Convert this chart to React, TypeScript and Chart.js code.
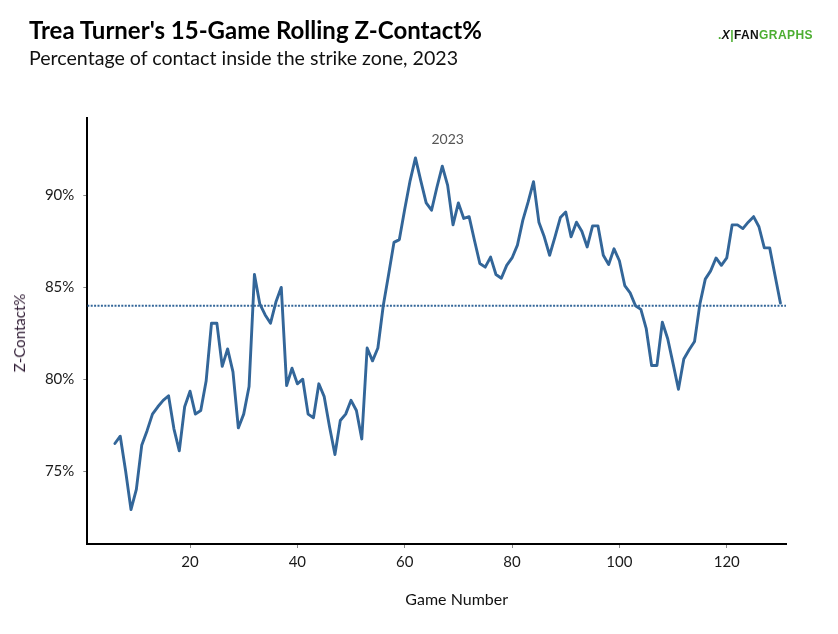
import React, { useEffect, useRef } from "react";
import { Chart, registerables } from "chart.js";

Chart.register(...registerables);

// Game numbers and 15-game rolling Z-Contact%
const games = [
  6, 7, 8, 9, 10, 11, 12, 13, 14, 15, 16, 17, 18, 19, 20, 21, 22, 23, 24, 25,
  26, 27, 28, 29, 30, 31, 32, 33, 34, 35, 36, 37, 38, 39, 40, 41, 42, 43, 44,
  45, 46, 47, 48, 49, 50, 51, 52, 53, 54, 55, 56, 57, 58, 59, 60, 61, 62, 63,
  64, 65, 66, 67, 68, 69, 70, 71, 72, 73, 74, 75, 76, 77, 78, 79, 80, 81, 82,
  83, 84, 85, 86, 87, 88, 89, 90, 91, 92, 93, 94, 95, 96, 97, 98, 99, 100,
  101, 102, 103, 104, 105, 106, 107, 108, 109, 110, 111, 112, 113, 114, 115,
  116, 117, 118, 119, 120, 121, 122, 123, 124, 125, 126, 127, 128, 129, 130,
];

const zContact = [
  76.5, 76.9, 75.0, 72.9, 74.0, 76.4, 77.2, 78.1, 78.5, 78.85, 79.1, 77.3,
  76.1, 78.5, 79.35, 78.1, 78.3, 79.9, 83.05, 83.05, 80.7, 81.65, 80.4, 77.35,
  78.1, 79.6, 85.7, 84.1, 83.5, 83.05, 84.2, 85.0, 79.65, 80.6, 79.75, 80.0,
  78.1, 77.9, 79.75, 79.05, 77.4, 75.9, 77.75, 78.1, 78.85, 78.3, 76.75, 81.7,
  81.0, 81.7, 84.0, 85.7, 87.45, 87.6, 89.25, 90.8, 92.05, 90.8, 89.6, 89.2,
  90.45, 91.6, 90.55, 88.4, 89.6, 88.75, 88.85, 87.55, 86.3, 86.1, 86.65, 85.7,
  85.5, 86.2, 86.6, 87.3, 88.65, 89.65, 90.75, 88.55, 87.75, 86.75, 87.75,
  88.8, 89.1, 87.75, 88.55, 88.05, 87.2, 88.35, 88.35, 86.75, 86.25, 87.1,
  86.45, 85.1, 84.7, 84.0, 83.8, 82.75, 80.75, 80.75, 83.1, 82.2, 80.85, 79.45,
  81.1, 81.6, 82.05, 84.1, 85.45, 85.9, 86.6, 86.2, 86.6, 88.4, 88.4, 88.2,
  88.55, 88.85, 88.3, 87.15, 87.15, 85.65, 84.15,
];

const seasonAverage = 84.0;
const avgLineGames = [0.86, 131.04];

const xTicks = [20, 40, 60, 80, 100, 120];
const yTicks = [75, 80, 85, 90];

const seasonLabel = "2023";
const seasonLabelGame = 68;
const seasonLabelValue = 93.06;

const LINE_COLOR = "#336699";
const FONT = "Lato, 'Noto Sans', sans-serif";

const seasonLabelPlugin = {
  id: "seasonLabel",
  afterDatasetsDraw(chart: Chart) {
    const { ctx, scales } = chart;
    const x = scales.x.getPixelForValue(seasonLabelGame);
    const y = scales.y.getPixelForValue(seasonLabelValue);
    ctx.save();
    ctx.font = `14px ${FONT}`;
    ctx.fillStyle = "#555555";
    ctx.textAlign = "center";
    ctx.textBaseline = "middle";
    ctx.fillText(seasonLabel, x, y);
    ctx.restore();
  },
};

const App: React.FC = () => {
  const chartRef = useRef<HTMLCanvasElement>(null);
  const chartInstance = useRef<Chart | null>(null);

  useEffect(() => {
    if (!chartRef.current) return;
    if (chartInstance.current) chartInstance.current.destroy();

    const ctx = chartRef.current.getContext("2d");
    if (!ctx) return;

    chartInstance.current = new Chart(ctx, {
      type: "line",
      data: {
        datasets: [
          {
            data: games.map((g, i) => ({ x: g, y: zContact[i] })),
            borderColor: LINE_COLOR,
            borderWidth: 2.9,
            borderJoinStyle: "round",
            borderCapStyle: "round",
            pointRadius: 0,
            tension: 0,
            fill: false,
          },
          {
            data: avgLineGames.map((g) => ({ x: g, y: seasonAverage })),
            borderColor: LINE_COLOR,
            borderWidth: 2,
            borderDash: [2, 1.4],
            pointRadius: 0,
            fill: false,
          },
        ],
      },
      options: {
        animation: false,
        responsive: true,
        maintainAspectRatio: false,
        layout: { padding: { top: 118, right: 52, left: 0, bottom: 0 } },
        plugins: {
          legend: { display: false },
          tooltip: { enabled: false },
        },
        scales: {
          x: {
            type: "linear",
            min: 0.86,
            max: 131.04,
            afterBuildTicks: (scale: any) => {
              scale.ticks = xTicks.map((v) => ({ value: v }));
            },
            afterFit: (scale: any) => {
              scale.height = 90;
            },
            grid: {
              drawOnChartArea: false,
              drawTicks: true,
              tickLength: 4,
              tickColor: "#888888",
              tickWidth: 1,
            },
            border: { display: true, color: "#000000", width: 2 },
            ticks: {
              color: "#1a1a1a",
              font: { family: FONT, size: 15 },
              padding: 5,
              maxRotation: 0,
              autoSkip: false,
            },
          },
          y: {
            min: 71.03,
            max: 94.22,
            afterBuildTicks: (scale: any) => {
              scale.ticks = yTicks.map((v) => ({ value: v }));
            },
            afterFit: (scale: any) => {
              scale.width = 87.3;
            },
            grid: {
              drawOnChartArea: false,
              drawTicks: true,
              tickLength: 4,
              tickColor: "#888888",
              tickWidth: 1,
            },
            border: { display: true, color: "#000000", width: 2 },
            ticks: {
              color: "#1a1a1a",
              font: { family: FONT, size: 15 },
              padding: 9,
              callback: (value: any) => `${value}%`,
            },
          },
        },
      },
      plugins: [seasonLabelPlugin],
    });

    return () => {
      if (chartInstance.current) {
        chartInstance.current.destroy();
        chartInstance.current = null;
      }
    };
  }, []);

  return (
    <div
      style={{
        position: "absolute",
        left: 0,
        top: 0,
        width: 838,
        height: 634,
        background: "#ffffff",
        fontFamily: FONT,
        overflow: "hidden",
      }}
    >
      <canvas ref={chartRef}></canvas>

      {/* Header */}
      <div
        style={{
          position: "absolute",
          left: 29,
          top: 17.7,
          fontSize: 24,
          lineHeight: "24px",
          fontWeight: 700,
          color: "#000000",
          whiteSpace: "nowrap",
        }}
      >
        Trea Turner's 15-Game Rolling Z-Contact%
      </div>
      <div
        style={{
          position: "absolute",
          left: 29,
          top: 47.6,
          fontSize: 19.6,
          lineHeight: "19.6px",
          color: "#111111",
          whiteSpace: "nowrap",
        }}
      >
        Percentage of contact inside the strike zone, 2023
      </div>

      {/* Logo */}
      <div
        style={{
          position: "absolute",
          left: 718,
          top: 29,
          fontFamily: "'Liberation Sans', Arial, sans-serif",
          fontSize: 12,
          lineHeight: "12px",
          fontWeight: 700,
          letterSpacing: 0.4,
          whiteSpace: "nowrap",
        }}
      >
        <span style={{ color: "#4cae31" }}>.</span>
        <span style={{ color: "#111111", fontStyle: "italic" }}>X</span>
        <span style={{ color: "#4cae31" }}>|</span>
        <span style={{ color: "#111111" }}>FAN</span>
        <span style={{ color: "#4cae31" }}>GRAPHS</span>
      </div>

      {/* Axis titles */}
      <div
        style={{
          position: "absolute",
          left: 456.7,
          top: 590,
          transform: "translateX(-50%)",
          fontSize: 16,
          lineHeight: "18px",
          color: "#111111",
          whiteSpace: "nowrap",
        }}
      >
        Game Number
      </div>
      <div
        style={{
          position: "absolute",
          left: 18.5,
          top: 332.5,
          transform: "translate(-50%, -50%) rotate(-90deg)",
          fontSize: 15,
          lineHeight: "16px",
          color: "#2e1a33",
          whiteSpace: "nowrap",
        }}
      >
        Z-Contact%
      </div>
    </div>
  );
};

export default App;
